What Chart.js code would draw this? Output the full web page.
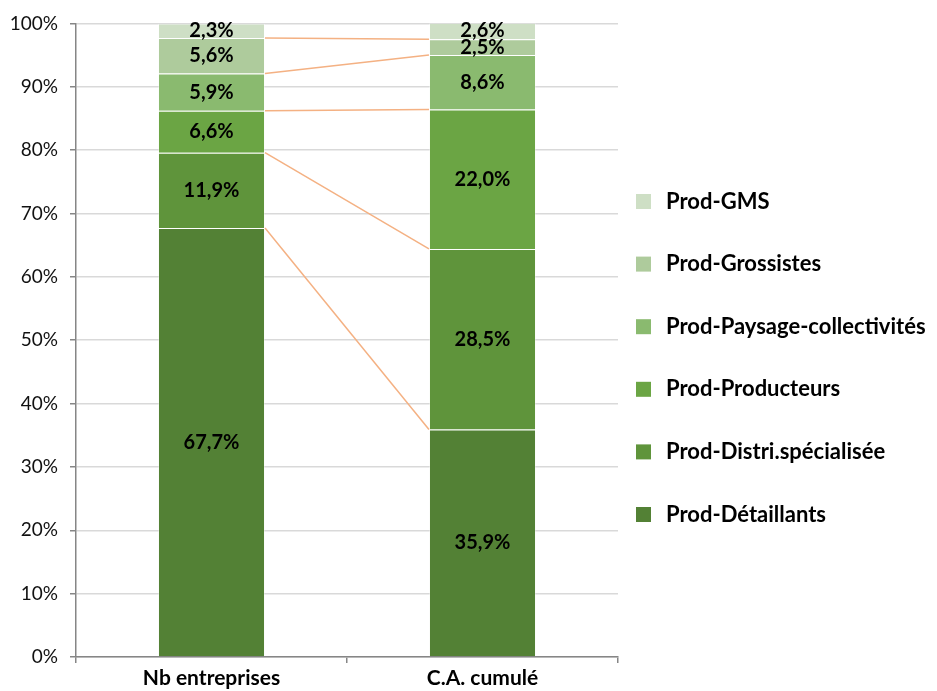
<!DOCTYPE html>
<html><head><meta charset="utf-8">
<script src="https://cdn.jsdelivr.net/npm/chart.js@4"></script>
<style>html,body{margin:0;padding:0;background:#fff}</style>
</head><body>
<canvas id="c" width="937" height="691" style="width:937px;height:691px;display:block"></canvas>
<script>
const categories = ['Nb entreprises', 'C.A. cumulé'];
const seriesNames = ['Prod-Détaillants', 'Prod-Distri.spécialisée', 'Prod-Producteurs', 'Prod-Paysage-collectivités', 'Prod-Grossistes', 'Prod-GMS'];
const detaillants = [67.7, 35.9];
const distri = [11.9, 28.5];
const producteurs = [6.6, 22.0];
const paysage = [5.9, 8.6];
const grossistes = [5.6, 2.5];
const gms = [2.3, 2.6];
const seriesValues = [detaillants, distri, producteurs, paysage, grossistes, gms];
const seriesColors = ['#538135', '#5f943b', '#6ba544', '#8aba6f', '#aecb9c', '#cedfc5'];
const yMin = 0, yMax = 100, yStep = 10;

const FONT = 'Lato, "Open Sans", sans-serif';

const seriesLinesPlugin = {
  id: 'seriesLines',
  afterDatasetsDraw(chart) {
    const ctx = chart.ctx;
    ctx.save();
    ctx.strokeStyle = '#f4b183';
    ctx.lineWidth = 1.5;
    for (let i = 0; i < chart.data.datasets.length - 1; i++) {
      const meta = chart.getDatasetMeta(i);
      const a = meta.data[0], b = meta.data[1];
      ctx.beginPath();
      ctx.moveTo(a.x + a.width / 2, a.y);
      ctx.lineTo(b.x - b.width / 2, b.y);
      ctx.stroke();
    }
    ctx.restore();
  }
};

const valueLabelsPlugin = {
  id: 'valueLabels',
  afterDatasetsDraw(chart) {
    const ctx = chart.ctx;
    ctx.save();
    ctx.font = 'bold 20px ' + FONT;
    ctx.fillStyle = '#000';
    ctx.textAlign = 'center';
    ctx.textBaseline = 'middle';
    chart.data.datasets.forEach((ds, i) => {
      const meta = chart.getDatasetMeta(i);
      meta.data.forEach((el, j) => {
        const v = ds.data[j];
        const txt = v.toFixed(1).replace('.', ',') + '%';
        ctx.fillText(txt, el.x, (el.y + el.base) / 2);
      });
    });
    ctx.restore();
  }
};

const sideLegendPlugin = {
  id: 'sideLegend',
  afterDraw(chart) {
    const ctx = chart.ctx;
    const boxX = 636, boxSize = 15, textX = 666, firstY = 201.5, step = 62.6;
    ctx.save();
    ctx.font = 'bold 22px ' + FONT;
    ctx.textBaseline = 'middle';
    ctx.textAlign = 'left';
    const n = chart.data.datasets.length;
    for (let k = 0; k < n; k++) {
      const ds = chart.data.datasets[n - 1 - k];
      const cy = firstY + k * step;
      ctx.fillStyle = ds.backgroundColor;
      ctx.fillRect(boxX, cy - boxSize / 2, boxSize, boxSize);
      ctx.fillStyle = '#000';
      ctx.fillText(ds.label, textX, cy);
    }
    ctx.restore();
  }
};

new Chart(document.getElementById('c'), {
  type: 'bar',
  data: {
    labels: categories,
    datasets: seriesNames.map((name, i) => ({
      label: name,
      data: seriesValues[i],
      backgroundColor: seriesColors[i],
      borderColor: 'rgba(255,255,255,0.35)',
      borderWidth: 1,
      barPercentage: 0.395,
      categoryPercentage: 1
    }))
  },
  options: {
    responsive: false,
    animation: false,
    devicePixelRatio: 1,
    layout: { padding: { top: 23, right: 319, bottom: 0, left: 0 } },
    plugins: { legend: { display: false }, tooltip: { enabled: false } },
    scales: {
      x: {
        stacked: true,
        grid: { drawOnChartArea: false, color: '#868686', tickLength: 6, lineWidth: 1.5 },
        border: { color: '#868686', width: 1.5 },
        ticks: { color: '#000', font: { family: FONT, size: 21, weight: 'bold' }, padding: 3 },
        afterFit(s) { s.height = 34; }
      },
      y: {
        stacked: true,
        min: yMin, max: yMax,
        grid: { color: '#d9d9d9', lineWidth: 1.5, tickLength: 6, tickColor: '#868686' },
        border: { color: '#868686', width: 1.5 },
        ticks: {
          stepSize: yStep,
          color: '#111',
          font: { family: FONT, size: 19 },
          padding: 12,
          callback: v => v + '%'
        },
        afterFit(s) { s.width = 76; }
      }
    }
  },
  plugins: [seriesLinesPlugin, valueLabelsPlugin, sideLegendPlugin]
});
</script>
</body></html>
